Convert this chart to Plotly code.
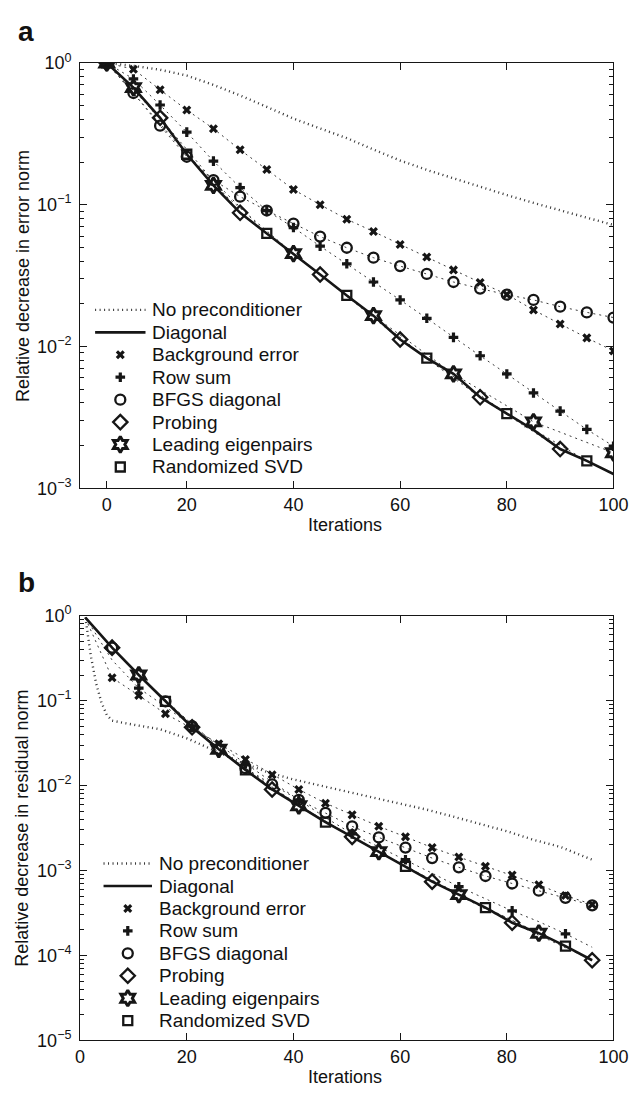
import plotly.graph_objects as go

W, H = 644, 1096
FONT = "Liberation Sans, Arial, Helvetica, sans-serif"

# ---------------- Panel a : relative decrease in error norm ----------------
iter_a = [5, 10, 15, 20, 25, 30, 35, 40, 45, 50, 55, 60, 65, 70, 75, 80, 85, 90, 95, 100]
tick_pos_a = [5, 20, 40, 60, 80, 100]
tick_lab_a = ["0", "20", "40", "60", "80", "100"]

none_a = [1.0, 0.955, 0.895, 0.815, 0.70, 0.59, 0.49, 0.405, 0.345, 0.295,
          0.245, 0.205, 0.176, 0.153, 0.134, 0.117, 0.103, 0.091, 0.081, 0.072]
diag_a = [1.0, 0.67, 0.41, 0.227, 0.137, 0.0877, 0.0627, 0.0452, 0.0322, 0.0229,
          0.0165, 0.0112, 0.00828, 0.00641, 0.00438, 0.00336, 0.00258, 0.00189, 0.00156, 0.00126]
bkg_a = [1.0, 0.904, 0.647, 0.466, 0.344, 0.244, 0.177, 0.128, 0.100, 0.079,
         0.0647, 0.0524, 0.0428, 0.0347, 0.0283, 0.0233, 0.0181, 0.0144, 0.0115, 0.0093]
rowsum_a = [1.0, 0.771, 0.505, 0.325, 0.203, 0.132, 0.091, 0.069, 0.051, 0.0383,
            0.0285, 0.0213, 0.0158, 0.0116, 0.0086, 0.0064, 0.0047, 0.0035, 0.0026, 0.00198]
bfgs_a = [1.0, 0.614, 0.361, 0.218, 0.149, 0.114, 0.091, 0.0736, 0.0596, 0.0497,
          0.0423, 0.0369, 0.0325, 0.0285, 0.0256, 0.0232, 0.0213, 0.0191, 0.0174, 0.016]
probing_a_x = [5, 15, 30, 45, 60, 75, 90]
probing_a = [1.0, 0.41, 0.0877, 0.0322, 0.0112, 0.00438, 0.00189]
leading_a_x = [5, 10, 25, 40, 55, 70, 85, 100]
leading_a = [1.0, 0.67, 0.137, 0.0452, 0.0165, 0.00641, 0.00294, 0.00178]
rsvd_a_x = [5, 20, 35, 50, 65, 80, 95]
rsvd_a = [1.0, 0.227, 0.0627, 0.0229, 0.00828, 0.00336, 0.00156]

# ---------------- Panel b : relative decrease in residual norm ----------------
tick_pos_b = [0, 20, 40, 60, 80, 100]
tick_lab_b = ["0", "20", "40", "60", "80", "100"]

none_b_x = [1, 2, 3, 4, 5, 6, 10, 15, 20, 25, 30, 35, 40, 45, 50, 55, 60, 65, 70, 75, 80, 85, 90, 96]
none_b = [0.95, 0.34, 0.16, 0.095, 0.068, 0.058, 0.052, 0.046, 0.036, 0.026, 0.019, 0.0145,
          0.0118, 0.0100, 0.0085, 0.0073, 0.0062, 0.0052, 0.0043, 0.0035, 0.0029, 0.0023, 0.0019, 0.00134]
iter_b = [1, 6, 11, 16, 21, 26, 31, 36, 41, 46, 51, 56, 61, 66, 71, 76, 81, 86, 91, 96]
diag_b = [0.95, 0.42, 0.2, 0.098, 0.0485, 0.0267, 0.0153, 0.009, 0.00578, 0.00371,
          0.00249, 0.00167, 0.00112, 0.00074, 0.00052, 0.000366, 0.000243, 0.000183, 0.000129, 0.0000879]
bkg_b = [0.93, 0.186, 0.115, 0.070, 0.047, 0.031, 0.0203, 0.0134, 0.009, 0.0062,
         0.00452, 0.00331, 0.00249, 0.00186, 0.00144, 0.00112, 0.000885, 0.000679, 0.000507, 0.000399]
rowsum_b = [0.95, 0.30, 0.14, 0.085, 0.05, 0.03, 0.018, 0.011, 0.0068, 0.0042,
            0.0027, 0.0019, 0.00134, 0.00093, 0.000645, 0.00046, 0.000335, 0.00025, 0.00018, 0.000125]
rowsum_b_mx = [11, 21, 31, 41, 51, 61, 71, 81, 91]
rowsum_b_my = [0.14, 0.05, 0.018, 0.0068, 0.0027, 0.00134, 0.000645, 0.000335, 0.00018]
bfgs_b = [0.95, 0.42, 0.2, 0.098, 0.05, 0.027, 0.016, 0.0103, 0.0068, 0.00477,
          0.00331, 0.00245, 0.00186, 0.0014, 0.00109, 0.000862, 0.000703, 0.000579, 0.000477, 0.000389]
probing_b_x = [6, 21, 36, 51, 66, 81, 96]
probing_b = [0.42, 0.0485, 0.009, 0.00249, 0.00074, 0.000243, 0.0000879]
leading_b_x = [11, 26, 41, 56, 71, 86]
leading_b = [0.2, 0.0267, 0.00578, 0.00167, 0.00052, 0.000183]
rsvd_b_x = [16, 31, 46, 61, 76, 91]
rsvd_b = [0.098, 0.0153, 0.00371, 0.00112, 0.000366, 0.000129]

names = ["No preconditioner", "Diagonal", "Background error", "Row sum",
         "BFGS diagonal", "Probing", "Leading eigenpairs", "Randomized SVD"]

INK = "#161616"
DOT = dict(color="#3a3a3a", width=1, dash="2px,4px")
NONE_LINE = dict(color="#333333", width=2.4, dash="1px,3.5px")
DIAG_LINE = dict(color=INK, width=2.6)
MK = {
    "Background error": dict(symbol="x", size=8, color=INK, line=dict(width=0)),
    "Row sum": dict(symbol="cross", size=8, color=INK, line=dict(width=0)),
    "BFGS diagonal": dict(symbol="circle-open", size=10, color=INK, line=dict(width=2.3)),
    "Probing": dict(symbol="diamond-open", size=11, color=INK, line=dict(width=2.3)),
    "Leading eigenpairs": dict(symbol="hexagram-open", size=12, color=INK, line=dict(width=3)),
    "Randomized SVD": dict(symbol="square-open", size=9, color=INK, line=dict(width=2.3)),
}

fig = go.Figure()


def add_panel(xa, ya, none_x, none_y, diag_x, diag_y, dotted, marks):
    for lx, ly in dotted:
        fig.add_trace(go.Scatter(x=lx, y=ly, mode="lines", line=DOT, showlegend=False,
                                 xaxis=xa, yaxis=ya, hoverinfo="skip"))
    fig.add_trace(go.Scatter(x=none_x, y=none_y, mode="lines", line=NONE_LINE, name=names[0],
                             showlegend=False, xaxis=xa, yaxis=ya))
    fig.add_trace(go.Scatter(x=diag_x, y=diag_y, mode="lines", line=DIAG_LINE, name=names[1],
                             showlegend=False, xaxis=xa, yaxis=ya))
    for nm, (mx, my) in zip(names[2:], marks):
        fig.add_trace(go.Scatter(x=mx, y=my, mode="markers", marker=MK[nm], name=nm,
                                 showlegend=False, xaxis=xa, yaxis=ya))


add_panel("x", "y", iter_a, none_a, iter_a, diag_a,
          [(iter_a, bkg_a), (iter_a, rowsum_a), (iter_a, bfgs_a),
           (probing_a_x, probing_a), (leading_a_x, leading_a), (rsvd_a_x, rsvd_a)],
          [(iter_a, bkg_a), (iter_a, rowsum_a), (iter_a, bfgs_a),
           (probing_a_x, probing_a), (leading_a_x, leading_a), (rsvd_a_x, rsvd_a)])

add_panel("x2", "y2", none_b_x, none_b, iter_b, diag_b,
          [(iter_b, bkg_b), (iter_b, rowsum_b), (iter_b, bfgs_b),
           (probing_b_x, probing_b), (leading_b_x, leading_b), (rsvd_b_x, rsvd_b)],
          [(iter_b[1:], bkg_b[1:]), (rowsum_b_mx, rowsum_b_my), (iter_b[1:], bfgs_b[1:]),
           (probing_b_x, probing_b), (leading_b_x, leading_b), (rsvd_b_x, rsvd_b)])

# ---------------- legends (drawn on a pixel-space overlay axis) ----------------
ann = []


def draw_legend(top, x0, x1, xt, step=22.9):
    xm = (x0 + x1) / 2
    for i, nm in enumerate(names):
        yy = top + i * step
        if i == 0:
            fig.add_trace(go.Scatter(x=[x0, x1], y=[yy, yy], mode="lines", line=NONE_LINE,
                                     showlegend=False, xaxis="x3", yaxis="y3", hoverinfo="skip"))
        elif i == 1:
            fig.add_trace(go.Scatter(x=[x0, x1], y=[yy, yy], mode="lines", line=DIAG_LINE,
                                     showlegend=False, xaxis="x3", yaxis="y3", hoverinfo="skip"))
        else:
            fig.add_trace(go.Scatter(x=[xm], y=[yy], mode="markers", marker=MK[nm],
                                     showlegend=False, xaxis="x3", yaxis="y3", hoverinfo="skip"))
        ann.append(dict(text=nm, x=xt, y=yy, xref="x3", yref="y3", xanchor="left",
                        yanchor="middle", showarrow=False, font=dict(family=FONT, size=19, color="#111")))


draw_legend(304, 93, 145, 150)
draw_legend(869, 101.7, 151.7, 157)


def minor_vals(lo, hi):
    out = []
    for e in range(lo, hi):
        for m in range(2, 10):
            out.append(m * 10.0 ** e)
    return out


def ylab(e):
    return "10<sup>%s</sup>" % (str(e) if e >= 0 else "\u2212" + str(-e))


XD = [77.5 / W, 628 / W]
axis_common = dict(showline=True, linecolor=INK, linewidth=1, mirror="ticks", ticks="inside",
                   ticklen=7, tickcolor=INK, tickwidth=1, showgrid=False, zeroline=False,
                   tickfont=dict(family=FONT, size=18, color="#111"))

fig.update_layout(
    width=W, height=H, margin=dict(l=0, r=0, t=0, b=0),
    paper_bgcolor="white", plot_bgcolor="rgba(0,0,0,0)",
    font=dict(family=FONT, size=18, color="#111"),
    showlegend=False,
    xaxis=dict(domain=XD, range=[0, 100], tickmode="array", tickvals=tick_pos_a, ticktext=tick_lab_a,
               anchor="y", **axis_common),
    yaxis=dict(domain=[1 - 486 / H, 1 - 52 / H], type="log", range=[-3, 0], tickmode="array",
               tickvals=[10.0 ** e for e in range(-3, 1)], ticktext=[ylab(e) for e in range(-3, 1)],
               minor=dict(tickmode="array", tickvals=minor_vals(-3, 0), ticks="inside", ticklen=4,
                          tickcolor=INK, showgrid=False),
               ticklabelstandoff=4, anchor="x", **axis_common),
    xaxis2=dict(domain=XD, range=[0, 100], tickmode="array", tickvals=tick_pos_b, ticktext=tick_lab_b,
                anchor="y2", **axis_common),
    yaxis2=dict(domain=[1 - 1049.5 / H, 1 - 616 / H], type="log", range=[-5, 0], tickmode="array",
                tickvals=[10.0 ** e for e in range(-5, 1)], ticktext=[ylab(e) for e in range(-5, 1)],
                minor=dict(tickmode="array", tickvals=minor_vals(-5, 0), ticks="inside", ticklen=4,
                           tickcolor=INK, showgrid=False),
                ticklabelstandoff=4, anchor="x2", **axis_common),
    xaxis3=dict(domain=[0, 1], range=[0, W], visible=False, anchor="y3", fixedrange=True),
    yaxis3=dict(domain=[0, 1], range=[H, 0], visible=False, anchor="x3", fixedrange=True),
)

ann.append(dict(text="<b>a</b>", x=11 / W, y=1 - 20 / H, xref="paper", yref="paper", xanchor="left",
                yanchor="middle", showarrow=False, font=dict(family=FONT, size=28, color="#111")))
ann.append(dict(text="<b>b</b>", x=11 / W, y=1 - 582 / H, xref="paper", yref="paper", xanchor="left",
                yanchor="middle", showarrow=False, font=dict(family=FONT, size=28, color="#111")))
ann.append(dict(text="Iterations", x=351 / W, y=1 - 524 / H, xref="paper", yref="paper",
                xanchor="center", yanchor="middle", showarrow=False, font=dict(family=FONT, size=18)))
ann.append(dict(text="Iterations", x=351 / W, y=1 - 1087 / H, xref="paper", yref="paper",
                xanchor="center", yanchor="middle", showarrow=False, font=dict(family=FONT, size=18)))
ann.append(dict(text="Relative decrease in error norm", x=18 / W, y=1 - 269 / H, xref="paper",
                yref="paper", xanchor="center", yanchor="middle", textangle=-90, showarrow=False,
                font=dict(family=FONT, size=18)))
ann.append(dict(text="Relative decrease in residual norm", x=18 / W, y=1 - 833 / H, xref="paper",
                yref="paper", xanchor="center", yanchor="middle", textangle=-90, showarrow=False,
                font=dict(family=FONT, size=18)))
fig.update_layout(annotations=ann)

fig.write_html("out.html")
